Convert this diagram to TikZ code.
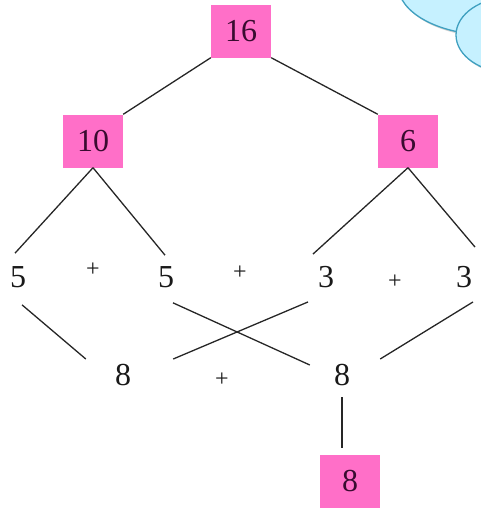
\documentclass[tikz,border=0pt]{standalone}
\usepackage{fontspec}
\setmainfont{Liberation Serif}
\usepackage{tikz}
\usetikzlibrary{calc, positioning, shadows}
\definecolor{boxpink}{HTML}{FF6FC8}
\definecolor{boxtext}{HTML}{3A0B30}
\definecolor{cloudfill}{HTML}{C6F1FF}
\definecolor{cloudline}{HTML}{3FA0C0}

\begin{document}
\begin{tikzpicture}[x=1pt, y=-1pt,
      sumbox/.style={rectangle, fill=boxpink, text=boxtext, inner sep=0pt,
                     minimum width=60pt, minimum height=53pt, font=\fontsize{32}{36}\selectfont},
      num/.style={inner sep=0pt, text=black!90, font=\fontsize{32}{36}\selectfont},
      plus/.style={inner sep=0pt, text=black!90, font=\fontsize{24}{28}\selectfont},
      link/.style={line width=1.3pt, black!85},
      bubble/.style={fill=cloudfill, draw=cloudline, line width=1.3pt,
                     drop shadow={shadow xshift=1.5pt, shadow yshift=-2pt, opacity=0.35}}
    ]
      \path[use as bounding box] (0,0) rectangle (481,509);
      \clip (0,0) rectangle (481,509);

      % cloud in the corner
      \path[bubble] (490,-15) ellipse [x radius=92, y radius=50];
      \path[bubble] (512,35) ellipse [x radius=56, y radius=38];

      % sums in pink boxes
      \node[sumbox] (top) at (241,31) {16};
      \node[sumbox] (ten) at (93,141) {10};
      \node[sumbox] (six) at (408,141) {6};
      \node[sumbox] (res) at (350,481) {8};

      % split numbers
      \node[num] (fiveA) at (18,277) {5};
      \node[num] (fiveB) at (166,277) {5};
      \node[num] (threeA) at (326,277) {3};
      \node[num] (threeB) at (464,277) {3};
      \node[num] (eightA) at (123,375) {8};
      \node[num] (eightB) at (342,375) {8};

      \node[plus] (plusA) at (93,270) {+};
      \node[plus] (plusB) at (240,273) {+};
      \node[plus] (plusC) at (395,282) {+};
      \node[plus] (plusD) at (222,380) {+};

      \draw[link] (top.south west) -- (ten.north east);
      \draw[link] (top.south east) -- (six.north west);
      \draw[link] (ten.south) -- ($(fiveA.north)+(-3,-13)$);
      \draw[link] (ten.south) -- ($(fiveB.north)+(-1,-11)$);
      \draw[link] (six.south) -- ($(threeA.north)+(-13,-12)$);
      \draw[link] (six.south) -- ($(threeB.north)+(11,-19)$);

      \draw[link] ($(fiveA.south)+(4,17)$) -- ($(eightA.north west)+(-29,-5)$);
      \draw[link] ($(fiveB.south)+(7,15)$) -- ($(eightB.north west)+(-24,1)$);
      \draw[link] ($(threeA.south)+(-18,14)$) -- ($(eightA.north east)+(42,-5)$);
      \draw[link] ($(threeB.south)+(9,14)$) -- ($(eightB.north east)+(30,-5)$);
      \draw[link] ($(eightB.south)+(0,11)$) -- ($(res.north)+(-8,-6)$);
    \end{tikzpicture}
\end{document}
